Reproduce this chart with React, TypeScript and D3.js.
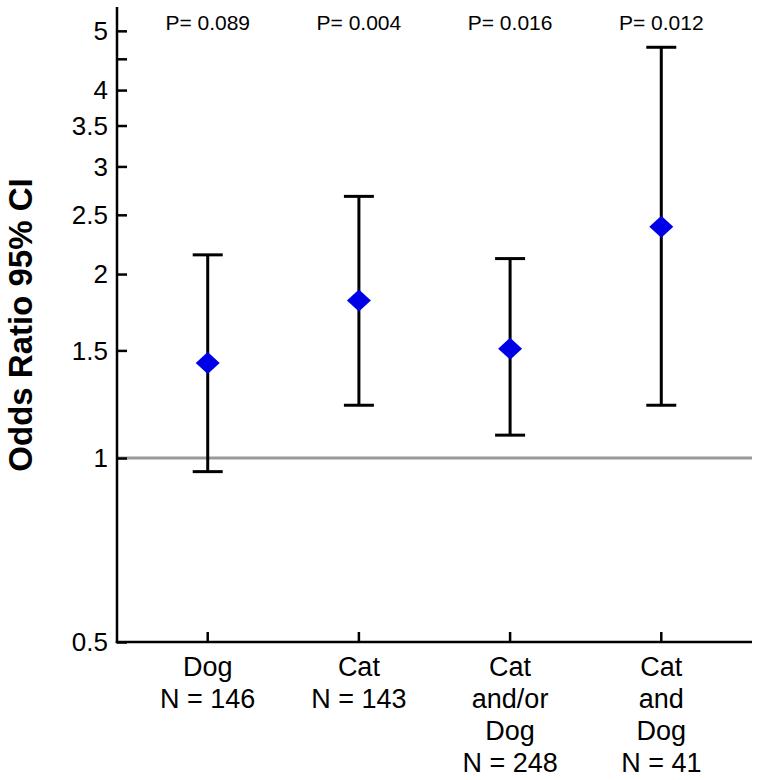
import React, { useEffect, useRef } from 'react';
import * as d3 from 'd3';

// groups on the x axis (label lines)
const groups = ['Dog', 'Cat', 'Cat and/or Dog', 'Cat and Dog'];
const groupLines = [
  ['Dog', 'N = 146'],
  ['Cat', 'N = 143'],
  ['Cat', 'and/or', 'Dog', 'N = 248'],
  ['Cat', 'and', 'Dog', 'N = 41'],
];
const oddsRatio = [1.43, 1.81, 1.51, 2.39];
const ciLower = [0.95, 1.22, 1.09, 1.22];
const ciUpper = [2.15, 2.68, 2.12, 4.7];
const pValues = ['P= 0.089', 'P= 0.004', 'P= 0.016', 'P= 0.012'];

const yTicks = [0.5, 1, 1.5, 2, 2.5, 3, 3.5, 4, 4.5, 5];
const yTickLabels = ['0.5', '1', '1.5', '2', '2.5', '3', '3.5', '4', '', '5'];

const FONT = 'Arial, "Liberation Sans", Helvetica, sans-serif';

export default function App() {
  const svgRef = useRef<SVGSVGElement>(null);

  useEffect(() => {
    if (!svgRef.current) return;
    const svg = d3.select(svgRef.current);
    svg.selectAll('*').remove();

    const left = 117;
    const right = 752;
    const bottom = 642;
    const top = 7;

    const x = d3.scalePoint<string>().domain(groups).range([left, right]).padding(0.6);
    const y = d3.scaleLog().domain([0.5, 5.47]).range([bottom, top]);

    const g = svg.append('g');

    // reference line at OR = 1
    g.append('line')
      .attr('x1', left)
      .attr('x2', right)
      .attr('y1', y(1))
      .attr('y2', y(1))
      .attr('stroke', '#999')
      .attr('stroke-width', 3);

    // y axis
    const yAxis = d3.axisRight(y)
      .tickValues(yTicks)
      .tickSize(10)
      .tickFormat(() => '');
    const ya = g.append('g')
      .attr('transform', `translate(${left},0)`)
      .call(yAxis);
    ya.select('.domain').remove();
    ya.selectAll('line').attr('stroke', '#000').attr('stroke-width', 2.5);

    g.append('line')
      .attr('x1', left).attr('x2', left)
      .attr('y1', top).attr('y2', bottom + 1.25)
      .attr('stroke', '#000').attr('stroke-width', 2.5);

    yTicks.forEach((t, i) => {
      if (!yTickLabels[i]) return;
      g.append('text')
        .attr('x', 108)
        .attr('y', y(t))
        .attr('dy', '0.36em')
        .attr('text-anchor', 'end')
        .style('font-family', FONT)
        .style('font-size', '26px')
        .style('fill', '#000')
        .text(yTickLabels[i]);
    });

    // x axis
    g.append('line')
      .attr('x1', left - 1.25).attr('x2', right)
      .attr('y1', bottom).attr('y2', bottom)
      .attr('stroke', '#000').attr('stroke-width', 2.5);

    groups.forEach((grp, i) => {
      const cx = x(grp)!;
      g.append('line')
        .attr('x1', cx).attr('x2', cx)
        .attr('y1', bottom).attr('y2', bottom - 10)
        .attr('stroke', '#000').attr('stroke-width', 2.5);

      groupLines[i].forEach((line, j) => {
        g.append('text')
          .attr('x', cx)
          .attr('y', 676 + j * 32)
          .attr('text-anchor', 'middle')
          .style('font-family', FONT)
          .style('font-size', '27px')
          .style('fill', '#000')
          .text(line);
      });

      // p value
      g.append('text')
        .attr('x', cx)
        .attr('y', 30)
        .attr('text-anchor', 'middle')
        .style('font-family', FONT)
        .style('font-size', '21px')
        .style('fill', '#000')
        .text(pValues[i]);

      // error bar
      const capW = 15;
      g.append('line')
        .attr('x1', cx).attr('x2', cx)
        .attr('y1', y(ciLower[i])).attr('y2', y(ciUpper[i]))
        .attr('stroke', '#000').attr('stroke-width', 3);
      [ciLower[i], ciUpper[i]].forEach((v) => {
        g.append('line')
          .attr('x1', cx - capW).attr('x2', cx + capW)
          .attr('y1', y(v)).attr('y2', y(v))
          .attr('stroke', '#000').attr('stroke-width', 3);
      });

      // point estimate
      const cy = y(oddsRatio[i]);
      g.append('path')
        .attr('d', `M${cx},${cy - 11}L${cx + 12},${cy}L${cx},${cy + 11}L${cx - 12},${cy}Z`)
        .attr('fill', '#0000e8');
    });

    // y axis title
    g.append('text')
      .attr('transform', `translate(32,325) rotate(-90)`)
      .attr('text-anchor', 'middle')
      .style('font-family', FONT)
      .style('font-size', '33px')
      .style('font-weight', 'bold')
      .style('fill', '#000')
      .text('Odds Ratio 95% CI');
  }, []);

  return (
    <div style={{ position: 'fixed', left: 0, top: 0, width: 760, height: 780, background: '#fff' }}>
      <svg ref={svgRef} width={760} height={780} style={{ display: 'block' }} />
    </div>
  );
}
